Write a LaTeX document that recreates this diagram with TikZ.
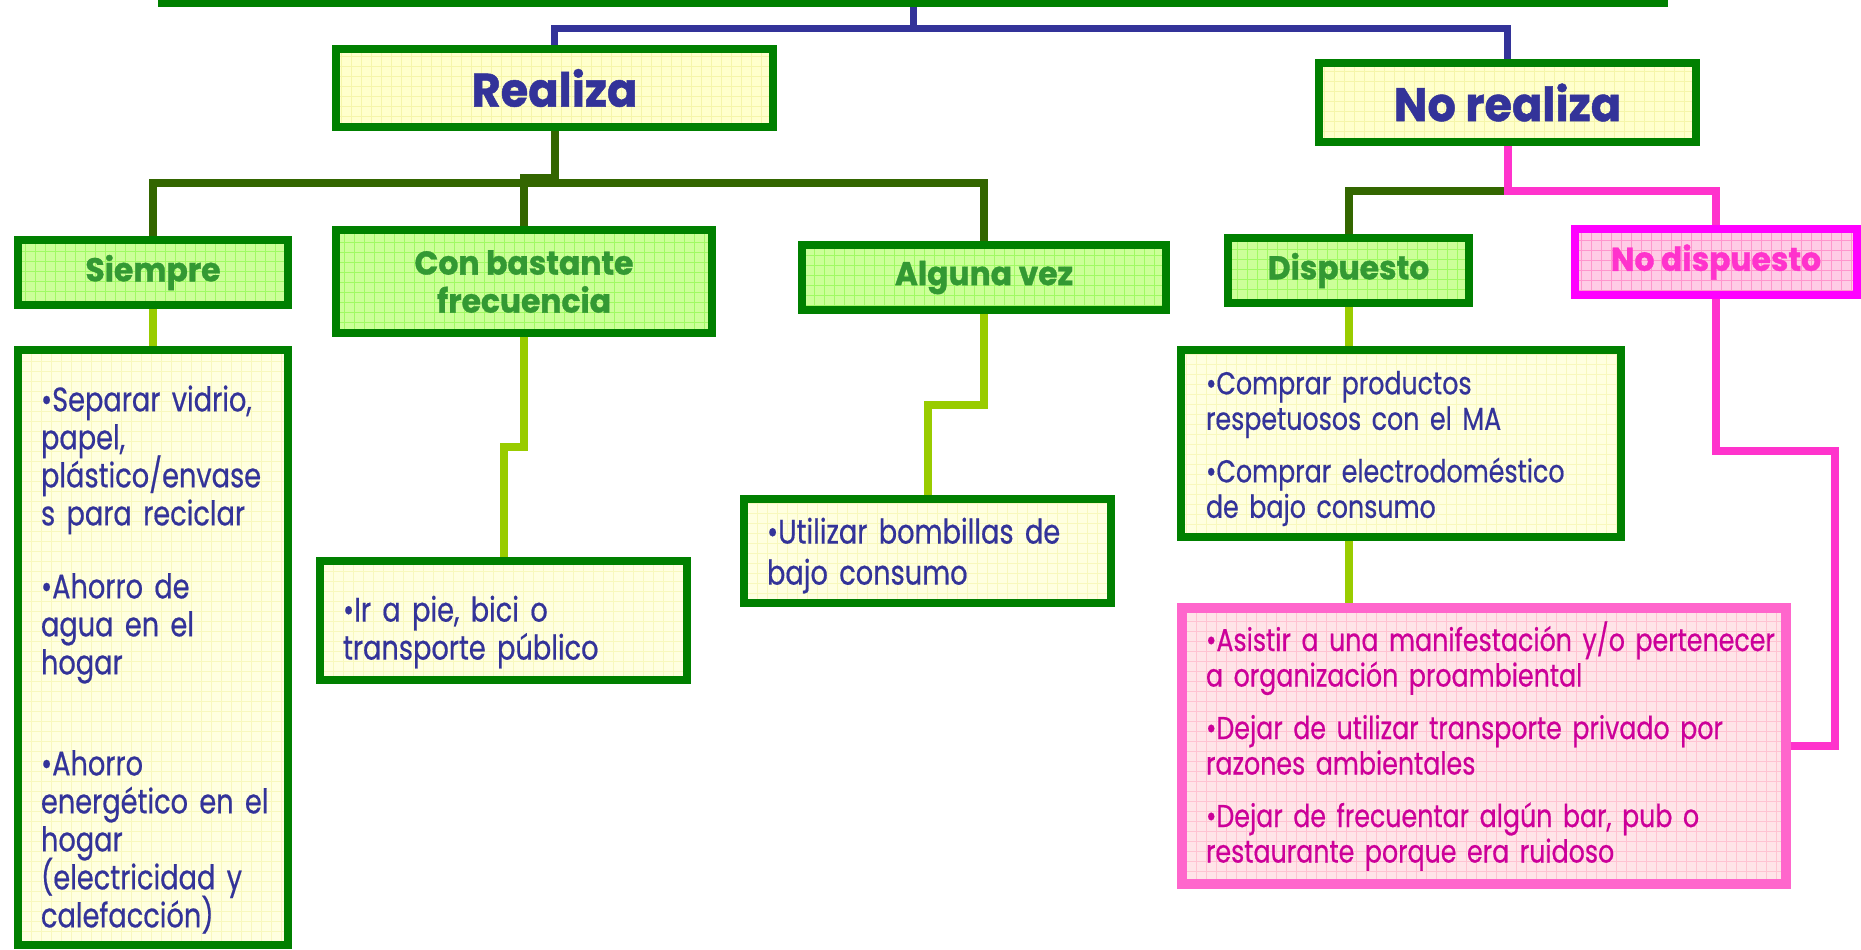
\documentclass[tikz,border=0pt]{standalone}
\usepackage{fontspec}
\setmainfont{Poppins}[FakeStretch=0.95, BoldFeatures={FakeBold=1}]
\newfontfamily\itemfont{Poppins}[FakeStretch=0.8, FakeBold=0.5]
\usetikzlibrary{backgrounds}
\definecolor{boxgreen}{RGB}{0,128,0}
\definecolor{navy}{RGB}{51,51,153}
\definecolor{olive}{RGB}{51,102,0}
\definecolor{lime}{RGB}{153,204,0}
\definecolor{rosa}{RGB}{255,51,204}
\definecolor{magborder}{RGB}{255,0,255}
\definecolor{pinkborder}{RGB}{255,102,204}
\definecolor{pinktext}{RGB}{204,0,153}
\definecolor{headgreen}{RGB}{51,153,51}
\definecolor{topfill}{RGB}{255,255,204}
\definecolor{topgrid}{RGB}{245,245,170}
\definecolor{greenfill}{RGB}{204,255,153}
\definecolor{greengrid}{RGB}{160,250,100}
\definecolor{yellowfill}{RGB}{255,255,224}
\definecolor{yellowgrid}{RGB}{248,248,190}
\definecolor{pinkfill}{RGB}{255,204,230}
\definecolor{pinkgrid}{RGB}{255,150,205}
\definecolor{rosefill}{RGB}{255,228,232}
\definecolor{rosegrid}{RGB}{255,195,210}

\begin{document}
\begin{tikzpicture}[x=0.5pt, y=-0.5pt,
  gridfill/.style={path picture={\draw[#1, line width=0.4pt, step=5pt] (path picture bounding box.south west) grid (path picture bounding box.north east);}},
  box/.style={draw=boxgreen, line width=4pt, inner sep=0pt},
  mainbox/.style={box, fill=topfill, gridfill=topgrid, text=navy, font=\bfseries\fontsize{23.5}{28}\selectfont},
  catbox/.style={box, fill=greenfill, gridfill=greengrid, text=headgreen, align=center, font=\bfseries\fontsize{16.5}{19}\selectfont},
  itembox/.style={box, fill=yellowfill, gridfill=yellowgrid, text=navy, align=left, inner xsep=11.5pt,
    font=\itemfont\fontsize{17}{19}\selectfont, execute at begin node={\hyphenpenalty=10000 \lineskiplimit=-100pt}},
  smallitembox/.style={itembox, inner xsep=12.5pt, font=\itemfont\fontsize{15.8}{17.75}\selectfont},
  conn/.style={line width=4pt}]
  \useasboundingbox (0,0) rectangle (1861,949);

  \node[fill=boxgreen, minimum width=755pt, minimum height=3.5pt, inner sep=0pt] (topbar) at (913,3.5) {};

  \node[mainbox, minimum width=218.5pt, minimum height=39pt] (realiza) at (554.5,88) {Realiza};
  \node[mainbox, minimum width=188.5pt, minimum height=39.5pt] (norealiza) at (1507.5,102.5) {No realiza};

  \node[catbox, minimum width=135pt, minimum height=32.5pt] (siempre) at (153,272.5) {Siempre};
  \node[catbox, minimum width=188pt, minimum height=51.5pt] (conb) at (524,281.5) {Con bastante\\frecuencia};
  \node[catbox, minimum width=182pt, minimum height=32.5pt] (alguna) at (984,277.5) {Alguna vez};
  \node[catbox, minimum width=120.5pt, minimum height=32.5pt] (dispuesto) at (1348.5,270.5) {Dispuesto};
  \node[catbox, draw=magborder, fill=pinkfill, gridfill=pinkgrid, text=rosa, minimum width=141pt, minimum height=33pt] (nodisp) at (1716,262) {No dispuesto};

  \node[itembox, text width=112pt, minimum width=135pt, minimum height=297.5pt] (siempreitems) at (153,647.5)
    {\rule{0pt}{25pt}•Separar~vidrio,\\papel,\\plástico/envase\\s~para~reciclar\\[17.5pt]•Ahorro de\\agua en el\\hogar\\[31.5pt]•Ahorro\\energético~en~el\\hogar\\(electricidad~y\\calefacción)};
  \node[itembox, text width=160.5pt, minimum width=183.5pt, minimum height=59.5pt] (irapie) at (503.5,620.5)
    {\rule{0pt}{24.5pt}•Ir a pie, bici o\\transporte público};
  \node[itembox, text width=160.5pt, minimum width=183.5pt, minimum height=52pt] (utilizar) at (927.5,551)
    {\rule{0pt}{17.5pt}•Utilizar~bombillas~de\\[1.5pt]bajo consumo};
  \node[smallitembox, text width=195pt, minimum width=220pt, minimum height=93.5pt] (dispitems) at (1401,443.5)
    {\rule{0pt}{16.7pt}•Comprar productos\\respetuosos con el MA\\[8.5pt]•Comprar electrodoméstico\\de bajo consumo};
  \node[smallitembox, draw=pinkborder, line width=5pt, fill=rosefill, gridfill=rosegrid, text=pinktext,
        inner xsep=12pt, text width=278pt, minimum width=302pt, minimum height=138pt] (pinkitems) at (1484,746)
    {•Asistir~a~una~manifestación~y/o~pertenecer\\a organización proambiental\\[8.5pt]•Dejar~de~utilizar~transporte~privado~por\\razones ambientales\\[8.5pt]•Dejar de frecuentar algún bar, pub o\\restaurante porque era ruidoso};

  \begin{scope}[on background layer]
    \coordinate (tsplit) at (913,28.5);
    \draw[conn, navy, line width=3.5pt] (topbar.south) -- (tsplit) -| (realiza.north);
    \draw[conn, navy, line width=3.5pt] (tsplit) -| (norealiza.north);

    \coordinate (rsplit) at (554.5,183);
    \coordinate (rjog) at (554.5,178);
    \draw[conn, olive] (realiza.south) -- (rsplit) -| (siempre.north);
    \draw[conn, olive] (rsplit) -| (alguna.north);
    \draw[conn, olive] (rjog) -| (conb.north);

    \coordinate (nsplit) at (1507.5,191);
    \draw[conn, olive] (nsplit) -| (dispuesto.north);
    \draw[conn, rosa] (norealiza.south) -- (nsplit) -| (nodisp.north);
    \coordinate (nbend) at (1835,451);
    \draw[conn, rosa] (nodisp.south) |- (nbend) |- (pinkitems.east);

    \draw[conn, lime] (siempre.south) -- (siempreitems.north);
    \coordinate (cbend) at (524,447);
    \draw[conn, lime] (conb.south) -- (cbend) -| (irapie.north);
    \coordinate (abend) at (984,405);
    \draw[conn, lime] (alguna.south) -- (abend) -| (utilizar.north);
    \draw[conn, lime] (dispuesto.south) -- (dispuesto.south |- dispitems.north);
    \draw[conn, lime] (dispitems.south -| dispuesto.south) -- (pinkitems.north -| dispuesto.south);
  \end{scope}
\end{tikzpicture}
\end{document}
